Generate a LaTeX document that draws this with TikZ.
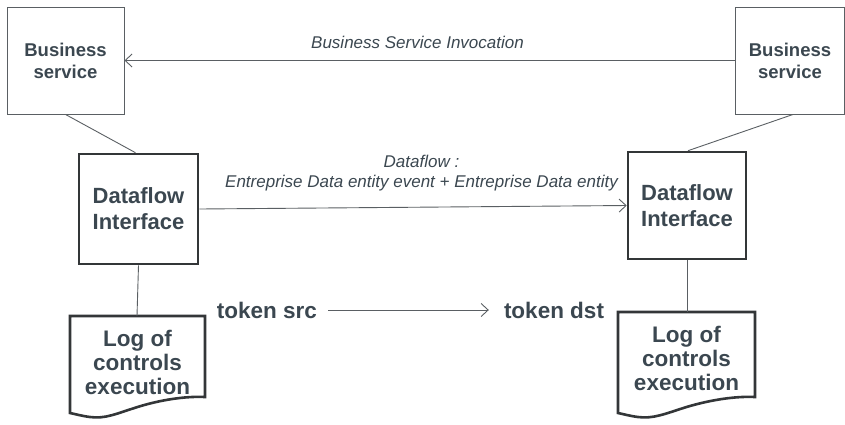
\documentclass[tikz,border=0pt]{standalone}
\usepackage{fontspec}
\setmainfont{Liberation Sans}
\usetikzlibrary{arrows.meta,positioning,calc}
\definecolor{txtgray}{HTML}{3B4750}
\definecolor{linegray}{HTML}{5A5F63}
\definecolor{boxgray}{HTML}{333638}
\tikzstyle{arrow}=[draw=linegray, line width=0.9pt, -{Straight Barb[length=7pt,width=13pt]}]
\tikzstyle{link}=[draw=linegray, line width=0.9pt]
\tikzstyle{bsbox}=[draw=linegray, line width=0.9pt, text=txtgray, align=center, inner sep=0pt,
  font=\fontsize{18.5}{22}\selectfont\bfseries]
\tikzstyle{dibox}=[draw=boxgray, line width=2.6pt, text=txtgray, align=center, inner sep=0pt,
  font=\fontsize{22}{26}\selectfont\bfseries]
\tikzstyle{logtext}=[text=txtgray, align=center, inner sep=0pt,
  font=\fontsize{22.5}{24}\selectfont\bfseries]
\tikzstyle{token}=[text=txtgray, inner sep=0pt, font=\fontsize{22.5}{24}\selectfont\bfseries]
\tikzstyle{flowlabel}=[text=txtgray, align=center, inner sep=0pt,
  font=\fontsize{17}{20}\selectfont\itshape]
% document shape with wavy bottom
\newcommand{\logshape}[4]{% left, right, top, bottom
  \draw[draw=boxgray, line width=2.6pt, line join=miter]
    (#1,#3) -- (#2,#3) -- (#2,#4-16)
    .. controls (#2-20,#4-17) and (#2-45,#4-13) .. ({(#1+#2)/2},#4-6)
    .. controls ({(#1+#2)/2-22},#4+1) and (#1+35,#4+6) .. (#1+20,#4+4)
    .. controls (#1+12,#4+3) and (#1+5,#4+1) .. (#1,#4)
    -- cycle;}

\begin{document}
\begin{tikzpicture}[x=1pt,y=-1pt]
\useasboundingbox (0,0) rectangle (845,424);

\node (bsL) [bsbox, minimum width=117pt, minimum height=107pt] at (65.5,60.5) {Business\\service};
\node (bsR) [bsbox, minimum width=109pt, minimum height=107pt] at (790,60.5) {Business\\service};
\node (diL) [dibox, minimum width=119pt, minimum height=110pt] at (138.5,209) {Dataflow\\Interface};
\node (diR) [dibox, minimum width=118pt, minimum height=107pt] at (687,205.5) {Dataflow\\Interface};

\logshape{70}{205}{316}{413}
\logshape{618}{755}{312}{413}
\node (logL) [logtext] at (137.5,362) {Log of\\controls\\execution};
\node (logR) [logtext] at (686.5,358) {Log of\\controls\\execution};
\coordinate (logLtop) at (137,316);
\coordinate (logRtop) at (687,312);

\node (src) [token] at (267,310) {token src};
\node (dst) [token] at (554,310) {token dst};

\node (invoke) [flowlabel] at (417.5,42) {Business Service Invocation};
\node (flow) [flowlabel] at (421.5,173) {Dataflow :\\Entreprise Data entity event + Entreprise Data entity};

\draw [arrow] (bsR.west) -- (bsL.east);
\draw [arrow] (diL.east) -- (diR.west);
\draw [arrow] ([xshift=11pt]src.east) -- ([xshift=-15pt]dst.west);
\draw [link] (bsL.south) -- ([xshift=-3pt]diL.north);
\draw [link] ([xshift=3pt]bsR.south) -- ([xshift=1pt]diR.north);
\draw [link] (diL.south) -- (logLtop);
\draw [link] (diR.south) -- (logRtop);

\end{tikzpicture}
\end{document}
